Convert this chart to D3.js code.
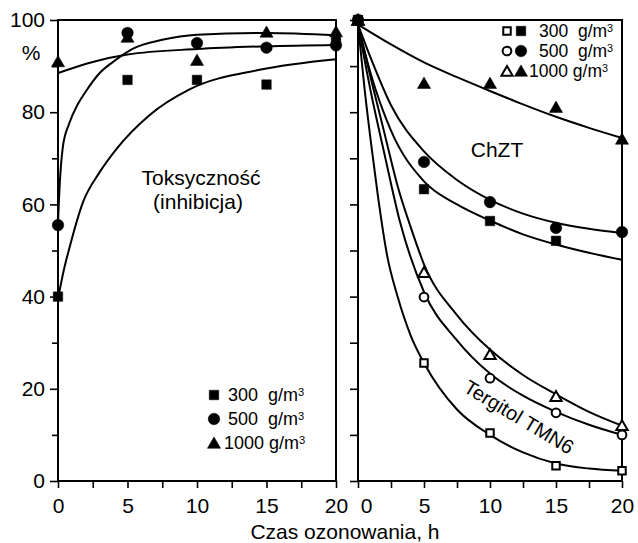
<!DOCTYPE html>
<html><head><meta charset="utf-8">
<script src="https://cdn.jsdelivr.net/npm/d3@7"></script>
<style>
body{margin:0;background:#fff}
text{font-family:"Liberation Sans",Arial,Helvetica,sans-serif;fill:#000}
</style>
</head><body>
<svg id="c" width="638" height="543"></svg>
<script>
// ---------- data ----------
const hours = [0, 5, 10, 15, 20];
const xTicks = [0, 2.5, 5, 7.5, 10, 12.5, 15, 17.5, 20];
const xLabels = [0, 5, 10, 15, 20];
const yTicksMajor = [0, 20, 40, 60, 80, 100];
const yTicksMinor = [10, 30, 50, 70, 90];

// left panel: toxicity (inhibition), %
const tox300  = [40, 87, 87, 86, 95.5];
const tox500  = [55.5, 97.2, 95, 94, 94.5];
const tox1000 = [91, 96.3, 91.3, 97.4, 97.5];
// fitted curves
const toxFit300X  = [0, 0.4, 0.86, 1.8, 3, 4.2, 6.6, 9.5, 14.5, 20];
const toxFit300Y  = [39.5, 45.5, 51, 60.5, 67, 72, 79.4, 85, 89.2, 91.5];
const toxFit500X  = [0, 0.1, 0.35, 0.8, 1.4, 2, 3, 4, 5.4, 7.5, 10, 15, 20];
const toxFit500Y  = [56, 63, 72.5, 77.5, 81.6, 84.5, 88.5, 91, 93.8, 95.7, 96.8, 97.2, 96.7];
const toxFit1000X = [0, 2.5, 5, 10, 15, 20];
const toxFit1000Y = [88.5, 90.9, 92.5, 93.7, 94.3, 94.6];

// right panel: ChZT (filled) and Tergitol TMN6 (open)
const chzt300   = [100, 63.3, 56.4, 52.1, null];
const chzt500   = [100, 69.2, 60.5, 54.9, 54];
const chzt1000  = [100, 86.3, 86.3, 81.1, 74.2];
const terg300   = [100, 25.6, 10.4, 3.3, 2.2];
const terg500   = [100, 39.9, 22.3, 14.8, 10];
const terg1000  = [100, 45.3, 27.5, 18.4, 12.1];

const chztFit1000X = [0, 2.5, 5, 7.5, 10, 12.5, 15, 17.5, 20];
const chztFit1000Y = [99, 94.7, 90.8, 87.6, 84.6, 81.7, 79, 76.6, 74.4];
const chztFit500X  = [0, 1, 2.5, 5, 7.5, 10, 12.5, 15, 17.5, 20];
const chztFit500Y  = [99, 91.5, 81.5, 71.5, 65.3, 61, 58, 56, 54.7, 53.8];
const chztFit300X  = [0, 1, 2.5, 5, 7.5, 10, 12.5, 15, 17.5, 20];
const chztFit300Y  = [99, 88, 76, 65, 60, 56.5, 53.5, 51.3, 49.5, 48];
const tergFit1000X = [0, 1, 2, 3, 4, 5, 7.5, 10, 12.5, 15, 17.5, 20];
const tergFit1000Y = [99, 87, 75.5, 64, 55, 47, 36, 28.5, 23, 18.8, 15, 12];
const tergFit500X  = [0, 1, 2, 3.2, 5, 7.5, 10, 12.5, 15, 17.5, 20];
const tergFit500Y  = [99, 84, 71, 56, 41, 30.5, 23.3, 18.5, 15, 12.2, 10];
const tergFit300X  = [0, 0.5, 1, 1.5, 2.2, 3, 4, 5, 7.5, 10, 12.5, 15, 17.5, 20];
const tergFit300Y  = [99, 85, 73, 62, 49, 40, 31.5, 25.6, 15.5, 10, 6.2, 3.8, 2.7, 2.2];

const legendLeft  = ["300  g/m", "500  g/m", "1000 g/m"];
const legendRight = ["300  g/m", "500  g/m", "1000 g/m"];

// ---------- drawing ----------
const svg = d3.select("#c");
svg.append("rect").attr("width", 638).attr("height", 543).attr("fill", "#fff");

const yTop = 20, yBottom = 481;
const y = d3.scaleLinear().domain([0, 100]).range([yBottom, yTop]);
const xL = d3.scaleLinear().domain([0, 20]).range([58, 336]);
const xR = d3.scaleLinear().domain([0, 20]).range([358, 622]);

const FS = 21;

function panel(x, showYLabels) {
  const g = svg.append("g");
  const ya = g.append("g").attr("transform", `translate(${x.range()[0]},0)`)
    .call(d3.axisLeft(y).tickValues(yTicksMajor).tickSize(8).tickPadding(5)
      .tickFormat(showYLabels ? d3.format("d") : () => ""));
  const yb = g.append("g").attr("transform", `translate(${x.range()[0]},0)`)
    .call(d3.axisLeft(y).tickValues(yTicksMinor).tickSize(showYLabels ? 6 : 8).tickFormat(() => ""));
  const xa = g.append("g").attr("transform", `translate(0,${yBottom})`)
    .call(d3.axisBottom(x).tickValues(xTicks).tickSize(7).tickPadding(10)
      .tickFormat(d => xLabels.includes(d) ? d3.format("d")(d) : ""));
  [ya, yb, xa].forEach(a => {
    a.select(".domain").remove();
    a.selectAll("line").attr("stroke", "#000").attr("stroke-width", 1.6);
    a.selectAll("text").attr("font-size", FS).attr("fill", "#000")
      .attr("font-family", '"Liberation Sans",Arial,sans-serif');
  });
  g.append("rect")
    .attr("x", x.range()[0]).attr("y", yTop)
    .attr("width", x.range()[1] - x.range()[0]).attr("height", yBottom - yTop)
    .attr("fill", "none").attr("stroke", "#000").attr("stroke-width", 2);
  return {g, xa};
}

const L = panel(xL, true);
const R = panel(xR, false);
R.xa.selectAll(".tick text").filter(d => d === 0).attr("dx", 8);

svg.append("text").attr("x", 31).attr("y", 52).attr("text-anchor", "middle")
  .attr("dominant-baseline", "central").attr("font-size", FS).text("%");

const line = (x) => d3.line().x(d => x(d[0])).y(d => y(d[1])).curve(d3.curveMonotoneX);
function fit(x, X, Y) {
  svg.append("path").datum(d3.zip(X, Y)).attr("d", line(x))
    .attr("fill", "none").attr("stroke", "#000").attr("stroke-width", 2);
}
fit(xL, toxFit300X, toxFit300Y);
fit(xL, toxFit500X, toxFit500Y);
fit(xL, toxFit1000X, toxFit1000Y);
fit(xR, chztFit1000X, chztFit1000Y);
fit(xR, chztFit500X, chztFit500Y);
fit(xR, chztFit300X, chztFit300Y);
fit(xR, tergFit1000X, tergFit1000Y);
fit(xR, tergFit500X, tergFit500Y);
fit(xR, tergFit300X, tergFit300Y);

const shapes = {
  sq:  {type: d3.symbolSquare, size: 90},
  ci:  {type: d3.symbolCircle, size: 105},
  tr:  {type: d3.symbolTriangle, size: 75},
  osq: {type: d3.symbolSquare, size: 56},
  oci: {type: d3.symbolCircle, size: 60},
  otr: {type: d3.symbolTriangle, size: 56}
};
function sym(px, py, key) {
  const s = shapes[key];
  const open = key.startsWith("o");
  const dy = (key.endsWith("tr")) ? 1.5 : 0;
  svg.append("path").attr("d", d3.symbol().type(s.type).size(s.size)())
    .attr("transform", `translate(${px},${py + dy})`)
    .attr("fill", open ? "#fff" : "#000")
    .attr("stroke", "#000").attr("stroke-width", open ? 2 : 0.5);
}
function series(x, vals, key) {
  hours.forEach((h, i) => { if (vals[i] != null) sym(x(h), y(vals[i]), key); });
}
series(xL, tox300, "sq");
series(xL, tox500, "ci");
series(xL, tox1000, "tr");
series(xR, terg300, "osq");
series(xR, terg500, "oci");
series(xR, terg1000, "otr");
series(xR, chzt300, "sq");
series(xR, chzt500, "ci");
series(xR, chzt1000, "tr");

function legText(x0, y0, label, fs) {
  const t = svg.append("text").attr("x", x0).attr("y", y0 + fs * 0.36).attr("font-size", fs)
    .style("white-space", "pre");
  t.append("tspan").text(label);
  t.append("tspan").attr("font-size", fs * 0.62).attr("dy", -fs * 0.3).text("3");
}
const legKeys = ["sq", "ci", "tr"];
const legRowsL = [395, 419, 443];
legRowsL.forEach((ry, i) => {
  sym(214, ry, legKeys[i]);
  legText(i === 2 ? 224 : 228, ry, legendLeft[i], 18);
});
const legRowsR = [31, 51, 71];
legRowsR.forEach((ry, i) => {
  sym(507, ry, "o" + legKeys[i]);
  sym(521, ry, legKeys[i]);
  legText(i === 2 ? 529 : 539, ry, legendRight[i], 17.5);
});

svg.append("text").attr("x", 201).attr("y", 185).attr("text-anchor", "middle")
  .attr("font-size", FS).text("Toksyczność");
svg.append("text").attr("x", 198).attr("y", 209).attr("text-anchor", "middle")
  .attr("font-size", FS).text("(inhibicja)");
svg.append("text").attr("x", 497).attr("y", 157).attr("text-anchor", "middle")
  .attr("font-size", FS).text("ChZT");
svg.append("text").attr("text-anchor", "middle").attr("dominant-baseline", "central")
  .attr("transform", "translate(519,417) rotate(31)")
  .attr("font-size", 20).text("Tergitol TMN6");

svg.append("text").attr("x", 345).attr("y", 539).attr("text-anchor", "middle")
  .attr("font-size", 21).text("Czas ozonowania, h");
</script>
</body></html>
